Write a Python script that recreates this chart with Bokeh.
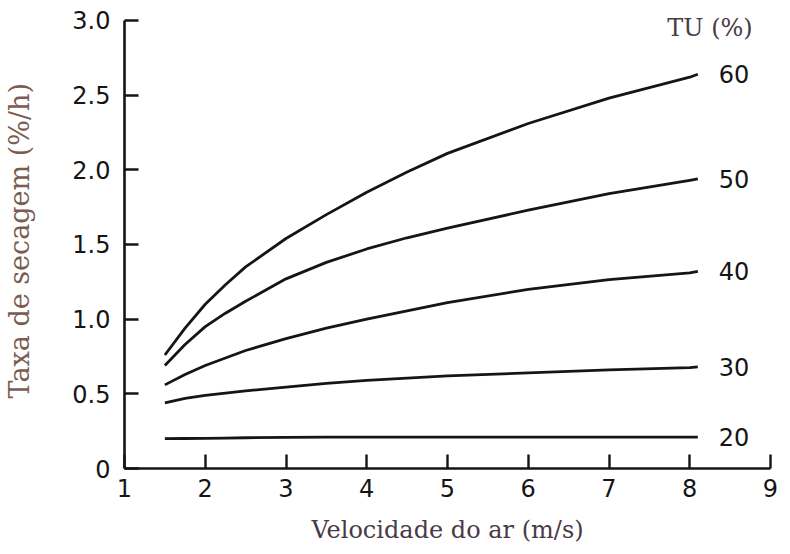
from bokeh.plotting import figure
from bokeh.models import FixedTicker, Label
from bokeh.core.properties import value
from bokeh.embed import file_html
from bokeh.resources import INLINE

# ---- data ----
speed = [1.5, 1.75, 2, 2.25, 2.5, 3, 3.5, 4, 4.5, 5, 6, 7, 8, 8.1]
rate_tu20 = [0.200, 0.201, 0.202, 0.204, 0.206, 0.208, 0.210, 0.210, 0.210, 0.210, 0.210, 0.210, 0.210, 0.210]
rate_tu30 = [0.44, 0.47, 0.49, 0.505, 0.52, 0.545, 0.57, 0.59, 0.605, 0.62, 0.64, 0.66, 0.675, 0.68]
rate_tu40 = [0.56, 0.63, 0.69, 0.74, 0.79, 0.87, 0.94, 1.00, 1.055, 1.11, 1.20, 1.265, 1.31, 1.32]
rate_tu50 = [0.69, 0.83, 0.95, 1.04, 1.12, 1.27, 1.38, 1.47, 1.545, 1.61, 1.73, 1.84, 1.93, 1.94]
rate_tu60 = [0.76, 0.94, 1.10, 1.23, 1.35, 1.54, 1.70, 1.85, 1.985, 2.11, 2.31, 2.48, 2.62, 2.64]
series = [rate_tu20, rate_tu30, rate_tu40, rate_tu50, rate_tu60]
series_labels = ["20", "30", "40", "50", "60"]
legend_title = "TU (%)"

x_ticks = [1, 2, 3, 4, 5, 6, 7, 8, 9]
x_tick_labels = ["1", "2", "3", "4", "5", "6", "7", "8", "9"]
y_ticks = [0, 0.5, 1.0, 1.5, 2.0, 2.5, 3.0]
y_tick_labels = ["0", "0.5", "1.0", "1.5", "2.0", "2.5", "3.0"]

x_title = "Velocidade do ar (m/s)"
y_title = "Taxa de secagem  (%/h)"

# ---- figure ----
p = figure(width=782, height=546, x_range=(1, 9), y_range=(0, 3.107),
           output_backend="svg", toolbar_location=None,
           min_border_left=124, min_border_right=12,
           min_border_top=4, min_border_bottom=77)
p.outline_line_color = None
p.xgrid.grid_line_color = None
p.ygrid.grid_line_color = None
p.background_fill_color = "white"
p.border_fill_color = "white"

tick_font = "DejaVu Sans"
tick_size = "24px"
ink = "#151515"

for ax, ticks, labels in ((p.xaxis[0], x_ticks, x_tick_labels),
                          (p.yaxis[0], y_ticks, y_tick_labels)):
    ax.ticker = FixedTicker(ticks=ticks)
    ax.major_label_overrides = {t: l for t, l in zip(ticks, labels)}
    ax.major_tick_in = 14
    ax.major_tick_out = 0
    ax.minor_tick_line_color = None
    ax.axis_line_width = 2.6
    ax.axis_line_color = ink
    ax.major_tick_line_width = 2.4
    ax.major_tick_line_color = ink
    ax.major_label_text_font = tick_font
    ax.major_label_text_font_size = tick_size
    ax.major_label_text_color = ink
    ax.axis_label_text_font = "DejaVu Serif"
    ax.axis_label_text_font_style = "normal"

p.xaxis[0].major_label_standoff = 10
p.yaxis[0].major_label_standoff = 14
p.yaxis[0].bounds = (y_ticks[0], y_ticks[-1])
p.xaxis[0].axis_label = x_title
p.xaxis[0].axis_label_text_font_size = "24px"
p.xaxis[0].axis_label_text_color = "#4a3a48"
p.xaxis[0].axis_label_standoff = 16
p.yaxis[0].axis_label = y_title
p.yaxis[0].axis_label_text_font_size = "27px"
p.yaxis[0].axis_label_text_color = "#7a5c50"
p.yaxis[0].axis_label_standoff = 34

label_dx = 0.26
for ys, lab in zip(series, series_labels):
    p.line(speed, ys, line_width=2.8, line_color=ink, line_join="round")
    p.text(x=[speed[-1] + label_dx], y=[ys[-1]], text=[lab],
           text_font=value(tick_font), text_font_size=tick_size,
           text_color=ink, text_baseline="middle", text_align="left")

p.add_layout(Label(x=8.78, y=2.95, text=legend_title, text_align="right",
                   text_baseline="middle", text_font="DejaVu Serif",
                   text_font_size="24px", text_color="#4a3a48"))

open("out.html", "w").write(file_html(p, INLINE))
